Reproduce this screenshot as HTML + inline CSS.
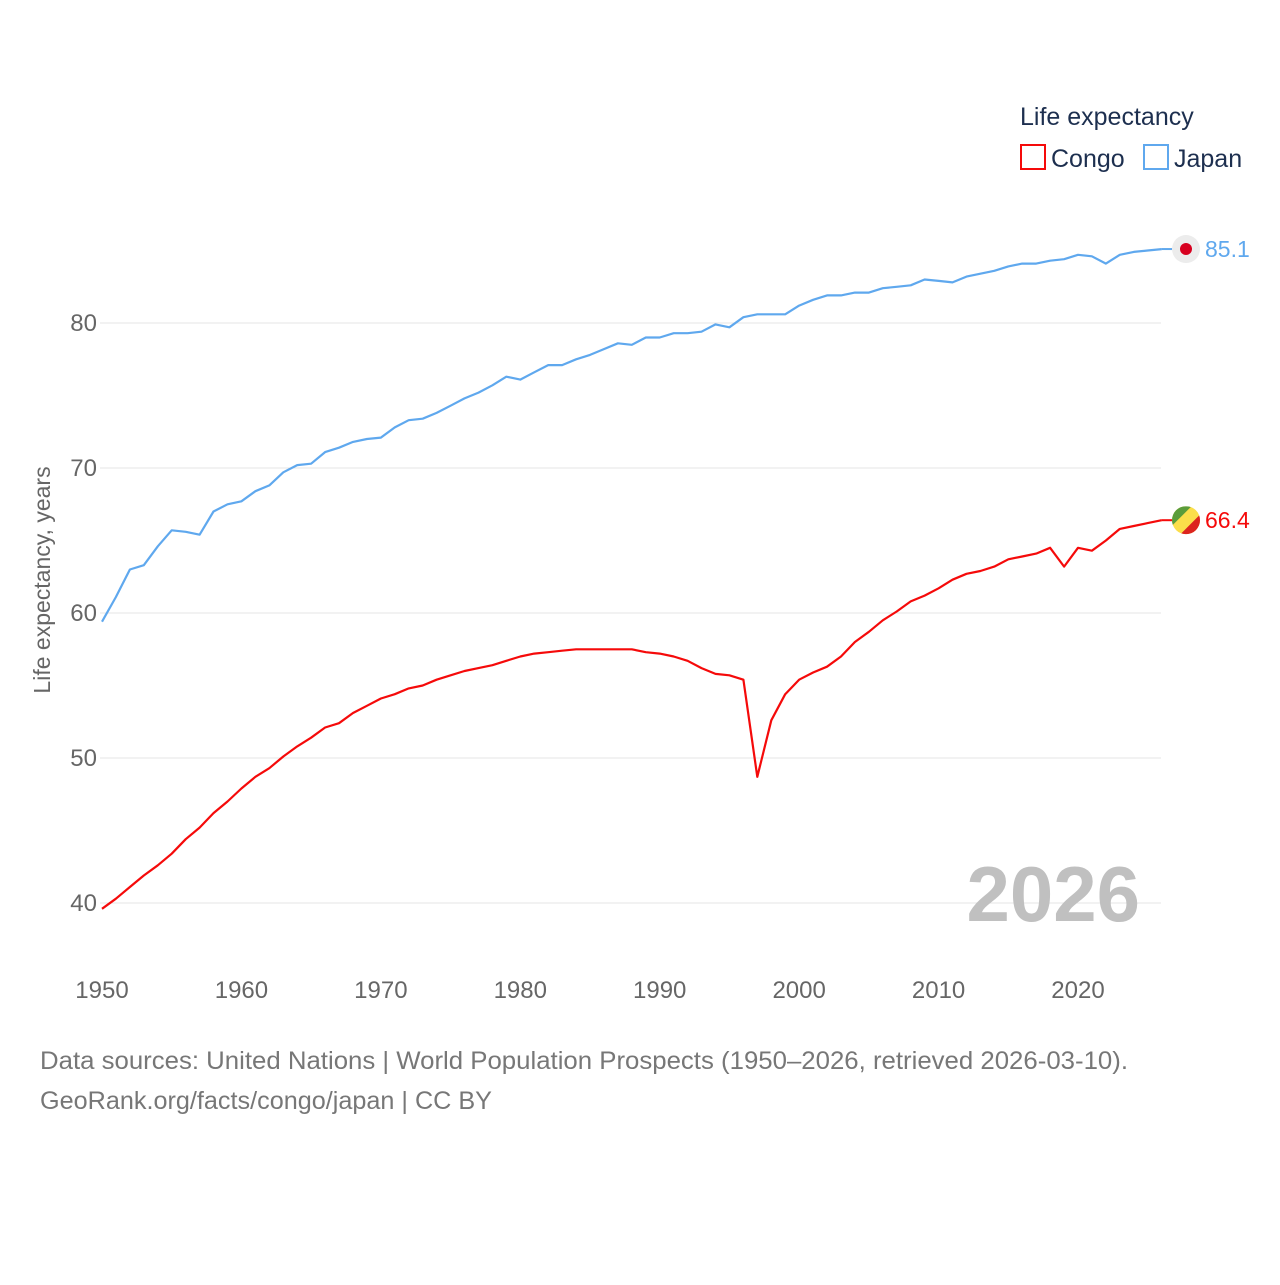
<!DOCTYPE html>
<html><head><meta charset="utf-8"><style>
body{margin:0;background:#fff;}
svg text{font-family:"Liberation Sans",sans-serif;}
</style></head><body>
<svg id="chart" width="1280" height="1280" xmlns="http://www.w3.org/2000/svg">
<text x="1020" y="125" font-size="25" fill="#1d2f4f">Life expectancy</text>
<g>
<rect x="1021" y="145" width="24" height="24" fill="none" stroke="#f50a0a" stroke-width="2"/>
<text x="1051" y="167" font-size="25" fill="#1d2f4f">Congo</text></g>
<g>
<rect x="1144" y="145" width="24" height="24" fill="none" stroke="#5fa8ee" stroke-width="2"/>
<text x="1174" y="167" font-size="25" fill="#1d2f4f">Japan</text></g>
<g id="grid"></g><g id="lines"></g>
<text x="1140" y="921" font-size="78" font-weight="bold" fill="#c0c0c0" text-anchor="end">2026</text>
<text transform="translate(50,580) rotate(-90)" font-size="23" fill="#666" text-anchor="middle">Life expectancy, years</text>
<text x="40" y="1069" font-size="25" fill="#777" textLength="1088" lengthAdjust="spacingAndGlyphs">Data sources: United Nations | World Population Prospects (1950–2026, retrieved 2026-03-10).</text>
<text x="40" y="1109" font-size="25" fill="#777" textLength="452" lengthAdjust="spacingAndGlyphs">GeoRank.org/facts/congo/japan | CC BY</text>
</svg>
<script>
const years=[];for(let y=1950;y<=2026;y++)years.push(y);
const japan=[59.4,61.1,63.0,63.3,64.6,65.7,65.6,65.4,67.0,67.5,67.7,68.4,68.8,69.7,70.2,70.3,71.1,71.4,71.8,72.0,72.1,72.8,73.3,73.4,73.8,74.3,74.8,75.2,75.7,76.3,76.1,76.6,77.1,77.1,77.5,77.8,78.2,78.6,78.5,79.0,79.0,79.3,79.3,79.4,79.9,79.7,80.4,80.6,80.6,80.6,81.2,81.6,81.9,81.9,82.1,82.1,82.4,82.5,82.6,83.0,82.9,82.8,83.2,83.4,83.6,83.9,84.1,84.1,84.3,84.4,84.7,84.6,84.1,84.7,84.9,85.0,85.1];
const congo=[39.6,40.3,41.1,41.9,42.6,43.4,44.4,45.2,46.2,47.0,47.9,48.7,49.3,50.1,50.8,51.4,52.1,52.4,53.1,53.6,54.1,54.4,54.8,55.0,55.4,55.7,56.0,56.2,56.4,56.7,57.0,57.2,57.3,57.4,57.5,57.5,57.5,57.5,57.5,57.3,57.2,57.0,56.7,56.2,55.8,55.7,55.4,48.7,52.6,54.4,55.4,55.9,56.3,57.0,58.0,58.7,59.5,60.1,60.8,61.2,61.7,62.3,62.7,62.9,63.2,63.7,63.9,64.1,64.5,63.2,64.5,64.3,65.0,65.8,66.0,66.2,66.4];
const yTicks=[40,50,60,70,80];
const xTicks=[1950,1960,1970,1980,1990,2000,2010,2020];
const NS="http://www.w3.org/2000/svg";
const X=y=>102+(y-1950)*(976/70);
const Y=v=>903-(v-40)*14.5;
const grid=document.getElementById('grid'),lines=document.getElementById('lines');
function mk(tag,attrs,parent){const e=document.createElementNS(NS,tag);for(const k in attrs)e.setAttribute(k,attrs[k]);parent.appendChild(e);return e;}
yTicks.forEach(t=>{
 const l=mk('line',{x1:100,x2:1161,y1:Y(t),y2:Y(t),stroke:'#e4e4e4','stroke-width':1},grid);
 
 
 const tx=mk('text',{x:97,y:Y(t)+8,'font-size':24,fill:'#666','text-anchor':'end'},grid);tx.textContent=t;
 
 
});
xTicks.forEach(t=>{
 const tx=mk('text',{x:X(t),y:998,'font-size':24,fill:'#666','text-anchor':'middle'},grid);tx.textContent=t;
 
 
});
function series(vals,color,name){
 const d=vals.map((v,i)=>(i?'L':'M')+X(years[i]).toFixed(1)+','+Y(v).toFixed(1)).join('');
 const p=mk('path',{d:d,fill:'none',stroke:color,'stroke-width':2.2,'stroke-linejoin':'round'},lines);
 
 
 const last=vals[vals.length-1],ly=Y(last);
 mk('line',{x1:X(2026),x2:1172,y1:ly,y2:ly,stroke:color,'stroke-width':2},lines);
 const g=mk('g',{},lines);
 
 
 if(name==='japan'){
  mk('circle',{cx:1186,cy:ly,r:14,fill:'#ececec'},g);
  mk('circle',{cx:1186,cy:ly,r:6,fill:'#d7001f'},g);
 }else{
  const cx=1186,cy=ly,r=14;
  mk('clipPath',{id:'cc'},g);
  const cp=g.lastChild;mk('circle',{cx:cx,cy:cy,r:r},cp);
  const gg=mk('g',{'clip-path':'url(#cc)'},g);
  mk('rect',{x:cx-r,y:cy-r,width:2*r,height:2*r,fill:'#fbde4a'},gg);
  mk('polygon',{points:`${cx-r},${cy-r} ${cx+r*0.4},${cy-r} ${cx-r},${cy+r*0.4}`,fill:'#5a9c3b'},gg);
  mk('polygon',{points:`${cx+r},${cy+r} ${cx-r*0.4},${cy+r} ${cx+r},${cy-r*0.4}`,fill:'#dc241f'},gg);
 }
 const t=mk('text',{x:1205,y:ly+8,'font-size':23,fill:color},lines);t.textContent=last.toFixed(1);
 
 
}
series(japan,'#5fa8ee','japan');
series(congo,'#f50a0a','congo');
</script>
</body></html>
